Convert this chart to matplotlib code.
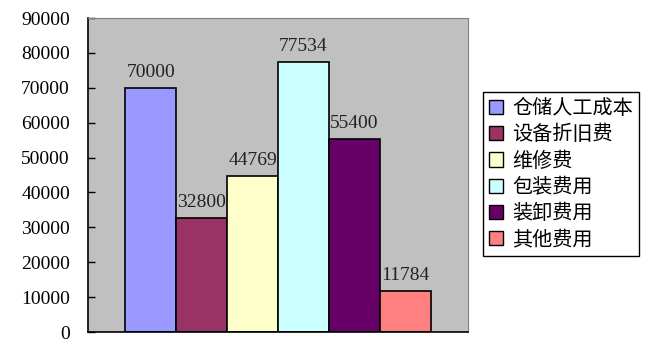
import matplotlib
matplotlib.use('Agg')
import matplotlib.pyplot as plt
from matplotlib.ticker import MultipleLocator

categories = ['仓储人工成本', '设备折旧费', '维修费', '包装费用', '装卸费用', '其他费用']
values = [70000, 32800, 44769, 77534, 55400, 11784]
colors = ['#9999FF', '#993366', '#FFFFCC', '#CCFFFF', '#660066', '#FF8080']

fig = plt.figure(figsize=(6.67, 3.56), dpi=100)
ax = fig.add_axes([0.1319, 0.0674, 0.5697, 0.882])
ax.set_facecolor('#C0C0C0')

num_font = ['Liberation Serif', 'DejaVu Serif']
cjk_font = ['Noto Sans CJK SC', 'DejaVu Sans']

for i, (name, v, c) in enumerate(zip(categories, values, colors)):
    ax.bar(i, v, width=1.0, color=c, edgecolor='black', linewidth=1.2, label=name)
    ax.annotate(str(v), (i, v), xytext=(0, 5), textcoords='offset points',
                ha='center', va='bottom', fontsize=14, family=num_font, color='#222222')

ax.set_xlim(-1.23, 6.23)
ax.set_ylim(0, 90000)
ax.yaxis.set_major_locator(MultipleLocator(10000))
ax.set_xticks([])
ax.tick_params(axis='y', length=5, width=1, direction='in', pad=13)
for lbl in ax.get_yticklabels():
    lbl.set_family(num_font)
    lbl.set_fontsize(14)

ax.spines['left'].set_color('black')
ax.spines['bottom'].set_color('black')
ax.spines['left'].set_linewidth(1.2)
ax.spines['bottom'].set_linewidth(1.2)
ax.spines['top'].set_color('#808080')
ax.spines['right'].set_color('#808080')

leg = fig.legend(loc='upper left', bbox_to_anchor=(483 / 667, 1 - 92 / 356),
                 prop={'family': cjk_font, 'size': 14.5}, frameon=True, fancybox=False,
                 edgecolor='black', framealpha=1, borderpad=0.3, labelspacing=0.26,
                 handlelength=0.7, handleheight=0.7, handletextpad=0.45,
                 borderaxespad=0)
leg.get_frame().set_linewidth(1.0)
for h in leg.legend_handles:
    h.set_linewidth(1.0)

fig.savefig('out.png', dpi=100)
